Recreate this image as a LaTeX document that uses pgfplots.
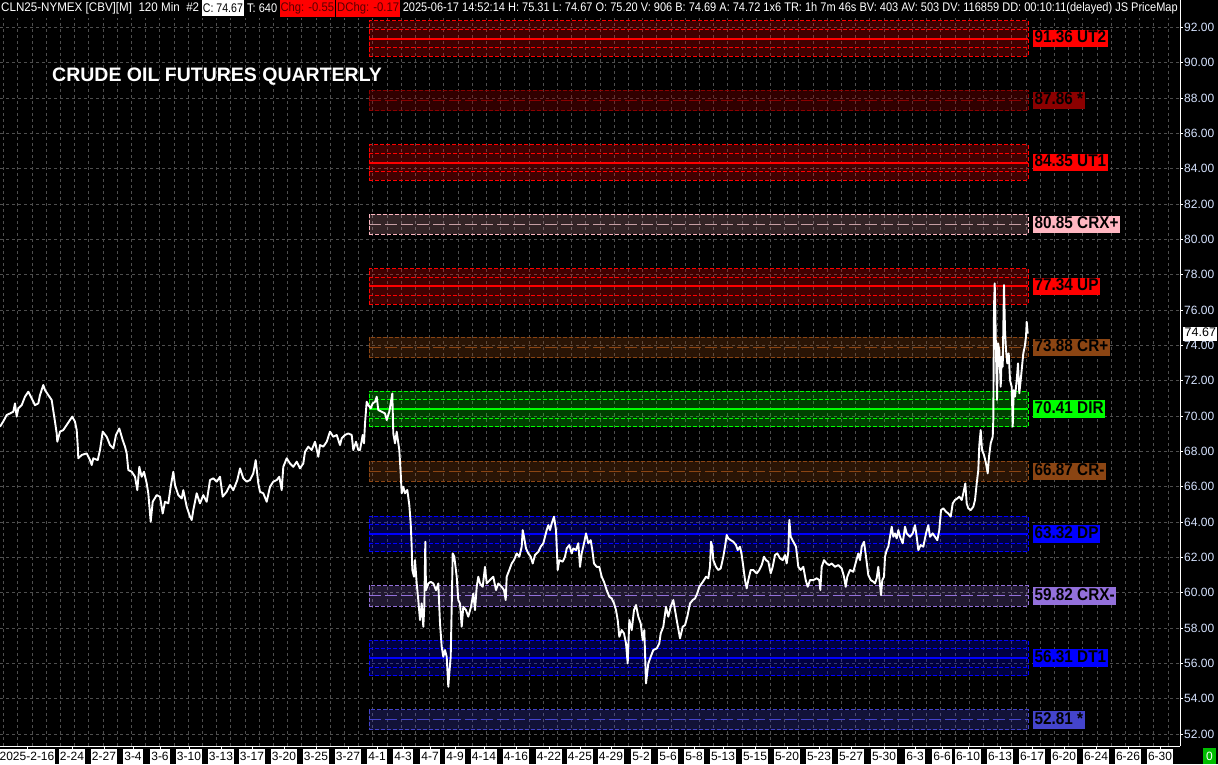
\documentclass[border=0pt]{standalone}
\usepackage{fontspec}
\setmainfont{Liberation Sans}
\usepackage{graphicx}
\usepackage{pgfplots}
\pgfplotsset{compat=1.18}
\usepackage{pgfplotstable}

\definecolor{cbrown}{RGB}{139,69,19}
\definecolor{cpink}{RGB}{255,182,193}
\definecolor{cpurple}{RGB}{147,112,219}
\definecolor{cslate}{RGB}{68,68,204}
\definecolor{cdred}{RGB}{139,0,0}
\definecolor{gridgray}{RGB}{78,78,78}
\definecolor{ticktext}{RGB}{215,228,255}
\definecolor{boxgreen}{RGB}{0,190,0}

% close prices (x = bar position, y = price)
\pgfplotstableread{
x y
0 69.40
3.3 69.70
6.7 70.06
10 70.15
13.3 70.25
15 70.72
16.7 69.97
18.3 70.44
21.7 70.62
25 71.10
28.3 71.38
31.7 71.00
35 70.62
38.3 70.72
40 71.19
43.3 71.76
45 71.47
48.3 71.19
51.7 70.91
52.7 70.53
55 69.68
56.7 69.02
57.3 68.55
60 69.12
63.3 69.21
66.7 69.50
70 69.78
72.3 69.97
75 69.68
76.7 69.21
77.7 68.36
78.3 67.61
81.7 67.80
86.7 67.89
90 67.51
91.7 67.23
93.3 67.61
97.7 67.51
100 68.08
102.7 69.12
106.7 68.83
110 68.36
113.3 68.17
116 68.93
119.3 69.30
122.7 68.64
125 68.27
126.7 67.89
128.3 66.95
131.7 66.85
135 66.57
137.3 65.81
139.3 67.13
141.7 66.57
144 66.85
146.7 66.19
148.3 65.63
150.7 64.02
152.7 65.15
156.7 65.53
160 65.44
162.7 64.49
165 65.15
168.3 65.06
170.7 66.00
173.3 66.85
175 66.10
178.3 65.53
181.7 65.34
183.3 65.81
186.7 64.87
190 64.31
191.7 64.12
193.3 64.68
196.7 65.63
200 65.06
203.3 65.53
206.7 65.15
210 66.38
213.3 66.48
216.7 66.29
220 66.57
222.7 65.44
226.7 65.72
230 66.10
233.3 65.81
237.3 66.38
240 67.04
243.3 66.48
246.7 66.29
250 66.38
253.3 66.76
255.7 67.51
258.3 66.19
260 65.72
263.3 65.63
266.7 65.15
270 66.00
273.3 66.29
276.7 66.38
279.3 66.57
281.7 65.81
283.3 67.13
286.7 67.61
290 67.32
293.3 67.13
296.7 67.42
300 67.04
303.3 67.32
305 67.98
308.3 68.27
311.7 68.08
315 68.55
318.3 67.70
320 68.36
323.3 68.27
326.7 68.55
330 69.12
333.3 68.83
336.7 68.93
340 68.36
341.7 68.74
345 68.93
348.3 69.02
351.7 68.93
353.3 68.08
356 68.55
358.3 68.08
360 68.08
362.7 68.93
364 68.46
365 69.59
366.7 70.81
368.3 70.63
370.7 70.44
372.7 70.72
375 70.81
376.7 71.10
378.3 70.34
381.7 70.25
385 70.15
386.7 69.78
389.3 70.25
390.7 70.72
392.3 71.28
393.3 69.02
395 68.46
396.7 69.12
399.3 68.08
400.7 66.76
401.7 65.63
403.3 66.00
405 65.63
407.3 65.82
409.3 64.97
410.7 63.93
411.7 62.61
412.3 61.29
414 60.91
415 61.85
416.7 60.53
418.3 59.59
420 58.46
421.7 59.40
423.3 58.08
424.3 59.21
425.3 62.89
426 60.15
428.3 60.53
430.7 60.62
433.3 60.53
436 60.15
438.3 60.53
440 58.27
441.7 56.95
443.3 56.38
445 56.76
446.7 56.38
448.3 54.68
449.3 55.44
450.7 56.38
451.7 59.21
452.7 62.23
454.3 62.04
456.7 60.91
458.3 59.59
460 59.40
461.7 58.08
463.3 59.21
466 59.02
468.3 58.65
471 59.21
473.3 59.96
475 59.02
476.7 60.34
478.3 60.91
480 60.53
482.7 60.34
485 61.47
486.7 60.53
490 60.72
493.3 60.91
496 60.15
498.3 60.53
501.7 60.34
504 60.15
505.7 59.59
506.7 60.91
509.3 61.29
511.7 61.66
514 61.85
516.7 62.23
519.3 62.04
521.7 62.61
522.7 63.55
524 63.17
526 62.51
528.3 62.23
530.7 62.04
532.7 61.66
535 62.14
538.3 62.32
540.7 62.61
543.3 62.80
545 63.17
546.7 63.55
548.3 63.83
550 63.55
551.7 63.93
554 64.31
556 63.55
557.7 61.29
559.3 61.85
562.7 61.76
565 62.04
566.7 62.51
569.3 62.70
571.7 62.23
573.3 62.51
576 62.42
578.3 62.80
580 61.47
581.7 62.23
584 62.80
586 63.36
588.3 62.80
590.7 62.98
592.3 62.42
594 61.66
596.7 61.47
599.3 61.47
601.7 60.91
604 60.62
606.7 60.15
609.3 59.78
611.7 59.68
614 59.40
616 59.02
617.7 58.46
619.3 57.51
621.7 57.89
624 57.70
626 57.14
627.7 56.00
629.3 58.46
631.7 57.89
634 59.02
636 59.31
638.3 58.65
640.7 58.27
642.7 57.33
644.3 57.89
646 54.87
648.3 56.00
650.7 56.38
653.3 56.76
656.7 56.85
659.3 57.14
660.7 57.70
663.3 58.08
666 59.21
668.3 58.65
670.7 59.21
673.3 59.59
675 59.02
677.3 58.27
680 57.42
682.7 58.08
685 58.17
687.3 58.65
690 59.40
692.7 59.59
695 59.68
697.3 59.97
699.3 60.34
701.7 60.53
704 60.72
706 60.91
708.3 60.82
710 61.47
711 62.89
712.3 62.61
713.3 61.85
716 61.47
718.3 61.29
720.7 61.38
723.3 62.04
725 62.61
726.7 63.27
728.3 63.08
730.7 62.98
733.3 62.89
736 62.70
737.7 62.42
740 62.61
741.7 62.14
743.3 61.47
745 60.72
746.7 60.25
748.3 60.72
750.7 61.29
753.3 61.29
756.7 61.10
759.3 61.29
761.7 61.57
764 62.04
766 61.85
768.3 61.76
770.7 61.10
772.7 61.47
775 62.14
777.3 62.23
780 61.95
782.7 61.85
785 62.14
786.7 61.66
788.3 62.32
789.3 64.12
790.7 63.17
793.3 62.89
796 62.61
798.3 61.47
800.7 61.29
803.3 61.47
805.7 60.72
807.7 60.34
810 60.72
813.3 60.72
816.7 60.82
819.3 60.72
820.3 60.16
821.7 61.47
824 61.85
826.7 61.66
829.3 61.57
831.7 61.66
835 61.47
838.3 61.57
841.7 61.38
844 60.91
845.7 60.34
847.3 60.91
850 61.29
853.3 61.19
856 61.76
858.3 62.23
860 61.85
861.7 62.61
864 62.89
866 62.04
868.3 61.00
870.7 60.72
873.3 60.63
875 60.53
876.7 60.82
878.3 61.47
880 60.44
881 59.87
882.3 60.72
884 60.91
885 62.04
886.7 62.42
888.3 62.61
890 63.17
891.7 63.74
893.3 63.17
895 63.36
896.7 63.08
898.3 63.55
900 63.17
902.7 62.80
905 63.74
906.7 63.36
910 63.17
912.7 63.36
915 63.83
916.7 63.17
918.3 62.42
920.7 62.70
923.3 62.61
926 63.36
928.3 63.83
930 63.17
932.7 63.36
935 63.17
937.3 62.98
939.3 63.55
941 64.68
943.3 64.78
946 64.59
948.3 64.49
950.7 64.31
952.7 65.06
955 65.25
957.3 65.34
959.3 65.44
961.7 65.25
963.3 65.63
965.3 66.19
966.7 65.06
968.3 64.78
970.7 64.68
973.3 64.87
975 65.25
976.7 66.19
978.3 66.95
979.3 68.36
980.7 69.21
982 68.08
984 67.80
986 67.32
987.7 66.76
989 67.70
990.7 68.46
992.7 68.83
993.3 69.78
994 76.19
994.7 77.51
995.3 76.00
996 73.55
997 70.91
998 74.12
999.3 73.74
1000.7 71.66
1001.7 73.36
1002.7 72.80
1004 77.42
1005 74.87
1006 73.74
1007.3 72.98
1008.7 73.55
1010 72.04
1011.7 71.66
1012.7 69.40
1013.7 71.47
1015 71.10
1016.7 72.04
1018 72.98
1019.3 71.29
1020.7 72.04
1022 72.80
1023.3 73.55
1024.7 73.93
1026 74.49
1026.7 75.34
1027.7 74.67
}\pricedata

\newcommand\majorband[2]{%
  \pgfmathsetmacro\bA{#1-1.0}\pgfmathsetmacro\bB{#1+1.0}%
  \pgfmathsetmacro\bC{#1-0.52}\pgfmathsetmacro\bD{#1+0.52}%
  \addplot[draw=none, fill=#2, fill opacity=0.25] coordinates {(369,\bA) (1028,\bA) (1028,\bB) (369,\bB)} -- cycle;
  \addplot[#2, line width=1pt, dash pattern=on 4pt off 2pt] coordinates {(369,\bA) (1028,\bA) (1028,\bB) (369,\bB) (369,\bA)};
  \addplot[#2, line width=1pt, dash pattern=on 4pt off 2pt] coordinates {(369,\bC) (1028,\bC)};
  \addplot[#2, line width=1pt, dash pattern=on 4pt off 2pt] coordinates {(369,\bD) (1028,\bD)};
  \addplot[#2, line width=2pt] coordinates {(369,#1) (1028,#1)};
}
\newcommand\minorband[4]{%
  \pgfmathsetmacro\bA{#1-0.57}\pgfmathsetmacro\bB{#1+0.57}%
  \addplot[draw=none, fill=#2, fill opacity=#4] coordinates {(369,\bA) (1028,\bA) (1028,\bB) (369,\bB)} -- cycle;
  \addplot[#2, line width=1pt, dash pattern=on 4pt off 2pt] coordinates {(369,\bA) (1028,\bA) (1028,\bB) (369,\bB) (369,\bA)};
  \addplot[#3, line width=1pt, dash pattern=on 12pt off 4pt] coordinates {(369,#1) (1028,#1)};
}

\begin{document}
\begin{tikzpicture}
\fill[black] (0pt,0pt) rectangle (1218pt,764pt);
\useasboundingbox (0pt,0pt) rectangle (1218pt,764pt);
\begin{axis}[
    at={(0pt,18pt)}, anchor=south west,
    width=1180pt, height=728pt, scale only axis,
    xmin=0, xmax=1180, ymin=51.33, ymax=92.53,
    clip=false,
    axis x line*=bottom, axis y line*=right,
    axis line style={white, line width=1pt},
    tick align=outside,
    major tick length=3pt,
    tick style={white, line width=1pt},
    minor tick length=0pt,
    xtick={27,72,104,133,160,189,221,252,284,316,348,377,403,430,455,484,516,549,580,611,641,668,694,723,755,787,819,851,884,915,942,968,1000,1032,1064,1096,1128,1160},
    xticklabels={2025-2-16,2-24,2-27,3-4,3-6,3-10,3-13,3-17,3-20,3-25,3-27,4-1,4-3,4-7,4-9,4-14,4-16,4-22,4-25,4-29,5-2,5-6,5-8,5-13,5-15,5-20,5-23,5-27,5-30,6-3,6-6,6-10,6-13,6-17,6-20,6-24,6-26,6-30},
    xticklabel style={fill=white, text=black, font=\fontsize{12}{13}\selectfont,
        inner xsep=1pt, inner ysep=1pt, text height=10pt, text depth=3.5pt},
    minor xtick={3.5,17.7,...,1180},
    xminorgrids=true, xmajorgrids=false,
    ytick={52,54,...,92},
    ymajorgrids=true,
    /pgf/number format/assume math mode=true,
    yticklabel={\pgfmathprintnumber[fixed,fixed zerofill,precision=2]{\tick}},
    yticklabel style={font=\fontsize{12}{12}\selectfont, text=ticktext, inner sep=0pt, xshift=1pt},
    major grid style={gridgray, line width=0.8pt, dash pattern=on 3pt off 3pt},
    minor grid style={gridgray, line width=0.8pt, dash pattern=on 3pt off 3pt},
]
\majorband{91.36}{red}
\minorband{87.86}{cdred}{cdred}{0.35}
\majorband{84.35}{red}
\minorband{80.85}{cpink}{cpink!55!gray}{0.2}
\majorband{77.34}{red}
\minorband{73.88}{cbrown}{cbrown}{0.3}
\majorband{70.41}{green}
\minorband{66.87}{cbrown}{cbrown}{0.3}
\majorband{63.32}{blue}
\minorband{59.82}{cpurple}{cpurple}{0.22}
\majorband{56.31}{blue}
\minorband{52.81}{cslate}{cslate}{0.28}

\addplot[white, line width=1.9pt, line join=round] table[x=x, y=y] {\pricedata};

\coordinate (lvlx) at (axis cs:1033,52);
\coordinate (l1) at (axis cs:1033,91.36);
\coordinate (l2) at (axis cs:1033,87.86);
\coordinate (l3) at (axis cs:1033,84.35);
\coordinate (l4) at (axis cs:1033,80.85);
\coordinate (l5) at (axis cs:1033,77.34);
\coordinate (l6) at (axis cs:1033,73.88);
\coordinate (l7) at (axis cs:1033,70.41);
\coordinate (l8) at (axis cs:1033,66.87);
\coordinate (l9) at (axis cs:1033,63.32);
\coordinate (l10) at (axis cs:1033,59.82);
\coordinate (l11) at (axis cs:1033,56.31);
\coordinate (l12) at (axis cs:1033,52.81);
\coordinate (cp) at (axis cs:1183,74.67);
\end{axis}

\begin{scope}[every node/.style={anchor=west, text=black, inner xsep=1.5pt, inner ysep=0pt,
        text height=13pt, text depth=4.5pt, font=\bfseries\fontsize{17}{18}\selectfont}]
\node[fill=red] at (l1) {\scalebox{0.9}[1]{91.36 UT2}};
\node[fill=cdred] at (l2) {\scalebox{0.9}[1]{87.86 *}};
\node[fill=red] at (l3) {\scalebox{0.9}[1]{84.35 UT1}};
\node[fill=cpink] at (l4) {\scalebox{0.9}[1]{80.85 CRX+}};
\node[fill=red] at (l5) {\scalebox{0.9}[1]{77.34 UP}};
\node[fill=cbrown] at (l6) {\scalebox{0.9}[1]{73.88 CR+}};
\node[fill=green] at (l7) {\scalebox{0.9}[1]{70.41 DIR}};
\node[fill=cbrown] at (l8) {\scalebox{0.9}[1]{66.87 CR-}};
\node[fill=blue] at (l9) {\scalebox{0.9}[1]{63.32 DP}};
\node[fill=cpurple] at (l10) {\scalebox{0.9}[1]{59.82 CRX-}};
\node[fill=blue] at (l11) {\scalebox{0.9}[1]{56.31 DT1}};
\node[fill=cslate] at (l12) {\scalebox{0.9}[1]{52.81 *}};
\end{scope}

\node[anchor=west, fill=white, text=black, inner xsep=1.5pt, inner ysep=0pt,
      text height=10pt, text depth=4pt, font=\fontsize{12.5}{13}\selectfont] at (cp) {74.67};

\draw[white, line width=1pt] (1180pt,746pt) -- (1180pt,764pt);
\begin{scope}[every node/.style={font=\fontsize{12.5}{13}\selectfont, anchor=west}]
\node[text=white, inner sep=0pt] at (1pt,756pt) {\resizebox{198pt}{\height}{CLN25-NYMEX [CBV][M]\ \ 120 Min\ \ \#2}};
\node[fill=white, text=black, inner xsep=1pt, minimum height=16pt] at (201.7pt,756pt) {\resizebox{40pt}{\height}{C: 74.67}};
\node[text=white, inner sep=0pt] at (247pt,756pt) {\resizebox{30pt}{\height}{T: 640}};
\node[fill=red, text=red!35!black, inner xsep=1pt, minimum height=16pt] at (279.4pt,756pt) {\resizebox{53.5pt}{\height}{Chg: -0.55}};
\node[fill=red, text=red!35!black, inner xsep=1pt, minimum height=16pt] at (336pt,756pt) {\resizebox{62pt}{\height}{DChg: -0.17}};
\node[text=white, inner sep=0pt] at (402.6pt,756pt) {\resizebox{775pt}{\height}{2025-06-17 14:52:14 H: 75.31 L: 74.67 O: 75.20 V: 906 B: 74.69 A: 74.72 1x6 TR: 1h 7m 46s BV: 403 AV: 503 DV: 116859 DD: 00:10:11(delayed) JS PriceMap}};
\end{scope}

\node[anchor=west, text=white, inner sep=0pt, font=\bfseries\fontsize{19.5}{20}\selectfont] at (52pt,687pt) {CRUDE OIL FUTURES QUARTERLY};

\node[fill=boxgreen, text=white, inner sep=0pt, minimum width=13pt, minimum height=16pt,
      font=\fontsize{12}{13}\selectfont] at (1209.5pt,8pt) {0};
\end{tikzpicture}
\end{document}
